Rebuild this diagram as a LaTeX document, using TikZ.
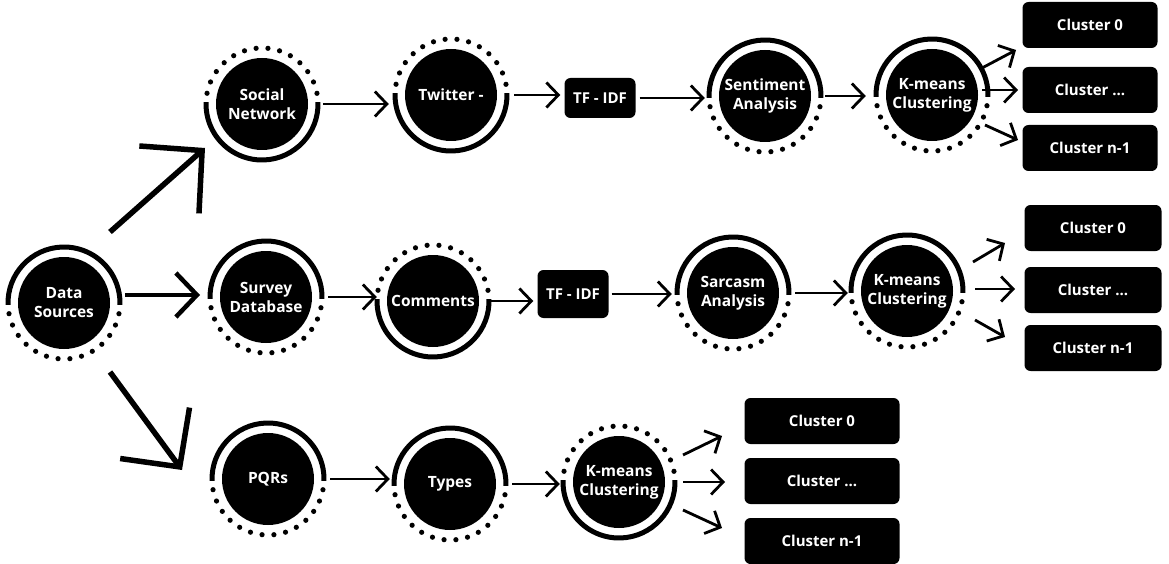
\documentclass[tikz,border=0pt]{standalone}
\usepackage{fontspec}
\setmainfont{Open Sans}
\usetikzlibrary{arrows.meta,calc}
\newcommand\ringdeco[2]{%
  \draw[line width=5pt] ($(#1)+({#2+182}:56)$) arc[start angle={#2+182},end angle={#2-2},radius=56];
  \foreach \k in {0,...,13}{\fill ($(#1)+({#2+191+\k*12.15}:56)$) circle[radius=2.6];}
}
\begin{document}
\begin{tikzpicture}[x=1pt,y=1pt,
  circ/.style={circle,fill=black,minimum size=92pt,inner sep=0pt,text=white,align=center,font=\fontsize{15.5}{19}\selectfont\bfseries},
  box/.style={rectangle,rounded corners=6pt,fill=black,text=white,minimum height=46pt,inner sep=0pt,font=\fontsize{15}{18}\selectfont\bfseries},
  arr/.style={line width=2.8pt,-{Straight Barb[length=12pt,width=25pt]}},
  bigarr/.style={line width=5.5pt,-{Straight Barb[length=44pt,width=90pt]}},
]
\useasboundingbox (0,0) rectangle (1169,-564);
% row 1
\node[circ] (ds) at (64,-303) {Data\\Sources};
\node[circ] (soc) at (262,-104) {Social\\Network};
\node[circ] (tw) at (451,-95) {Twitter -};
\node[box,minimum width=71pt,minimum height=40pt] (tf1) at (600,-98) {TF - IDF};
\node[circ] (sen) at (765,-96) {Sentiment\\Analysis};
\node[circ] (km1) at (932,-95) {K-means\\Clustering};
\node[box,minimum width=135pt] (c10) at (1090,-25) {Cluster 0};
\node[box,minimum width=135pt] (c11) at (1090,-90) {Cluster ...};
\node[box,minimum width=135pt] (c12) at (1090,-148) {Cluster n-1};
% row 2
\node[circ] (sv) at (266,-297) {Survey\\Database};
\node[circ] (cm) at (433,-301) {Comments};
\node[box,minimum width=71pt,minimum height=48pt] (tf2) at (573,-294) {TF - IDF};
\node[circ] (sar) at (733,-293) {Sarcasm\\Analysis};
\node[circ] (km2) at (907,-291) {K-means\\Clustering};
\node[box,minimum width=137pt] (c20) at (1093,-228) {Cluster 0};
\node[box,minimum width=137pt] (c21) at (1093,-290) {Cluster ...};
\node[box,minimum width=137pt] (c22) at (1093,-348) {Cluster n-1};
% row 3
\node[circ] (pq) at (268,-479) {PQRs};
\node[circ] (ty) at (450,-484) {Types};
\node[circ] (km3) at (619,-482) {K-means\\Clustering};
\node[box,minimum width=155pt] (c30) at (822,-421) {Cluster 0};
\node[box,minimum width=155pt] (c31) at (822,-481) {Cluster ...};
\node[box,minimum width=155pt] (c32) at (822,-541) {Cluster n-1};
% rings
\ringdeco{ds}{0}
\ringdeco{soc}{180}
\ringdeco{tw}{180}
\ringdeco{sen}{0}
\ringdeco{km1}{0}
\ringdeco{sv}{0}
\ringdeco{cm}{180}
\ringdeco{sar}{0}
\ringdeco{km2}{0}
\ringdeco{pq}{0}
\ringdeco{ty}{0}
\ringdeco{km3}{180}
% big arrows
\draw[bigarr] ($(ds)+(46,71)$) -- ($(soc)+(-57,-44)$);
\draw[line width=4.5pt,-{Straight Barb[length=21pt,width=44pt]}] ($(ds)+(61,8)$) -- ($(sv)+(-66,2)$);
\draw[line width=5.5pt,-{Straight Barb[length=42pt,width=86pt]}] ($(ds)+(46,-69)$) -- ($(pq)+(-86,9)$);
% small arrows
\draw[arr,shorten <=15pt,shorten >=16pt] (soc.east) -- (soc.east -| tw.west);
\draw[arr,shorten <=17pt,shorten >=4pt] (tw.east) -- (tw.east -| tf1.west);
\draw[arr,shorten <=4pt,shorten >=14pt] (tf1.east) -- (tf1.east -| sen.west);
\draw[arr,shorten <=14pt,shorten >=20pt] (sen.east) -- (sen.east -| km1.west);
\draw[arr,shorten <=16pt,shorten >=10pt] (sv.east) -- (sv.east -| cm.west);
\draw[arr,shorten <=12pt,shorten >=4pt] (cm.east) -- (cm.east -| tf2.west);
\draw[arr,shorten <=3pt,shorten >=15pt] (tf2.east) -- (tf2.east -| sar.west);
\draw[arr,shorten <=16pt,shorten >=13pt] (sar.east) -- (sar.east -| km2.west);
\draw[arr,shorten <=16pt,shorten >=14pt] (pq.east) -- (pq.east -| ty.west);
\draw[arr,shorten <=16pt,shorten >=13pt] (ty.east) -- (ty.east -| km3.west);
% cluster arrows
\draw[arr] ($(km1)+(50,27)$) -- ($(c10)+(-74,-25)$);
\draw[arr] ($(km1)+(50,5)$) -- ($(c11)+(-72,0)$);
\draw[arr] ($(km1)+(53,-30)$) -- ($(c12)+(-72,8)$);
\draw[arr] ($(km2)+(66,29)$) -- ($(c20)+(-88,-15)$);
\draw[arr] ($(km2)+(68,2)$) -- ($(c21)+(-78,1)$);
\draw[arr] ($(km2)+(68,-29)$) -- ($(c22)+(-88,11)$);
\draw[arr] ($(km3)+(64,27)$) -- ($(c30)+(-100,-15)$);
\draw[arr] ($(km3)+(64,0)$) -- ($(c31)+(-97,-1)$);
\draw[arr] ($(km3)+(64,-28)$) -- ($(c32)+(-100,13)$);
\end{tikzpicture}
\end{document}
